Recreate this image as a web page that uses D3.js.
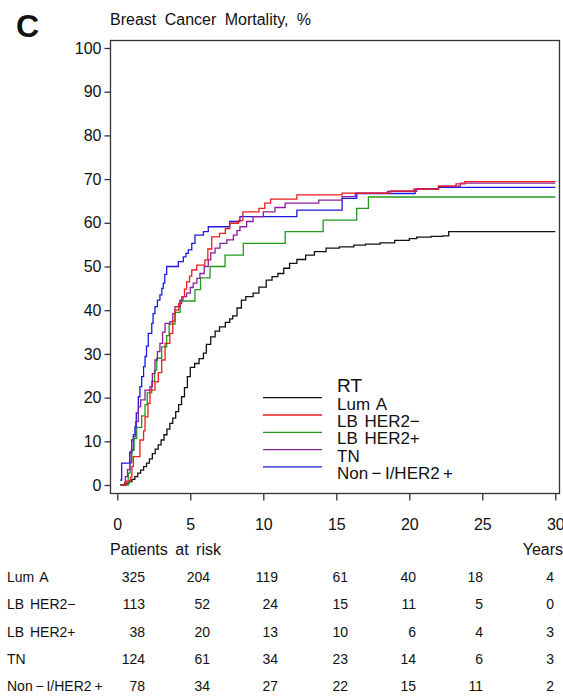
<!DOCTYPE html>
<html><head><meta charset="utf-8">
<script src="https://cdn.jsdelivr.net/npm/d3@7"></script>
<style>
body{margin:0;background:#fff;}
text{font-family:"Liberation Sans",Arial,Helvetica,sans-serif;fill:#111;}
</style>
</head><body>
<svg id="chart" width="563" height="700"></svg>
<script>
// ---------- data ----------
const seriesNames = ["Lum  A", "LB  HER2\u2212", "LB  HER2+", "TN", "Non\u2009\u2212\u2009I/HER2\u2009+"];
const seriesColors = ["#111111", "#ee1c1c", "#1f9a1f", "#8e1f9e", "#1a1ae0"];
const xTicks = [0, 5, 10, 15, 20, 25, 30];
const yTicks = [0, 10, 20, 30, 40, 50, 60, 70, 80, 90, 100];
const riskTimes = [0, 5, 10, 15, 20, 25, 30];

// step points [years, mortality %]
const lumA = [[0.2,0],[0.5,0.4],[0.8,0.8],[1.0,1.3],[1.2,1.9],[1.4,2.7],[1.6,3.4],[1.8,4.2],[2.0,5.0],[2.2,6.0],
  [2.4,7.2],[2.6,8.2],[2.8,9.2],[3.0,10.3],[3.2,11.5],[3.4,12.8],[3.6,14.1],[3.8,15.3],[4.0,16.8],[4.2,18.4],
  [4.4,20.2],[4.6,22.3],[4.8,24.8],[5.0,26.9],[5.3,27.8],[5.6,28.9],[5.9,30.2],[6.1,32.2],[6.4,33.9],[6.7,35.2],
  [7.0,36.2],[7.4,37.2],[7.7,38.0],[7.9,38.7],[8.2,40.5],[8.5,42.3],[8.8,43.1],[9.3,43.9],[9.7,45.3],[10.2,46.9],
  [10.6,47.7],[11.0,48.4],[11.4,49.6],[11.8,50.7],[12.3,51.6],[12.9,52.6],[13.5,53.4],[14.3,54.2],[15.2,54.5],[16.2,54.9],
  [17.0,55.1],[18.0,55.4],[19.0,56.0],[20.0,56.4],[20.5,56.7],[21.5,56.9],[22.3,57.0],[22.7,58.0],[30,58.0]];
const lbHer2Neg = [[0.3,0],[0.6,0.9],[0.9,1.8],[1.0,4.2],[1.1,6.5],[1.55,10.3],[1.8,12.4],[1.9,15.6],[2.1,18.7],[2.24,21.7],
  [2.58,23.6],[2.81,25.7],[3.04,28.6],[3.27,32.4],[3.6,34.7],[3.8,37.5],[3.95,40],[4.2,41.5],[4.41,43.1],[4.6,44.8],
  [4.75,46.5],[4.95,47.8],[5.1,49.2],[5.44,50.3],[6.0,51.5],[6.2,54.0],[6.47,56.8],[7.0,57.6],[7.4,58.7],[7.7,59.9],
  [8.3,60.5],[8.6,62.5],[9.7,63.3],[10.1,64.5],[10.5,65.4],[12.3,66.4],[15.4,66.8],[18.7,67.3],[20.3,67.7],[22.0,68.4],
  [23.2,68.9],[23.8,69.4],[30,69.4]];
const lbHer2Pos = [[0.53,0],[0.75,2.7],[0.87,5.3],[1.0,8.0],[1.15,10.6],[1.33,13.2],[1.67,15.8],[1.9,18.4],[2.05,21.1],[2.36,23.7],
  [2.55,26.3],[2.7,29.0],[3.04,31.6],[3.38,34.2],[3.55,36.8],[3.95,39.5],[4.3,42.1],[5.32,44.7],[5.7,47.4],[6.35,50.0],
  [7.38,52.6],[8.63,55.3],[11.5,58.0],[14.1,60.6],[16.4,63.3],[17.2,65.9],[30,65.9]];
const tn = [[0.4,0],[0.55,1.9],[0.7,3.5],[0.87,5],[0.95,8],[1.1,11],[1.25,14.5],[1.44,17.9],[1.6,19.5],[1.9,21.7],
  [2.24,22.5],[2.4,25.5],[2.58,28.6],[2.75,30.5],[2.92,32.4],[3.1,35],[3.27,37],[3.6,37.4],[3.8,39.2],[3.95,40.8],
  [4.3,42.3],[4.5,43.1],[4.75,43.9],[5.0,45.2],[5.2,46.2],[5.45,47.3],[5.66,48.4],[5.95,50],[6.23,51.5],[6.4,53.1],
  [6.7,54.2],[7.03,55.3],[7.5,56.1],[7.95,57.2],[8.2,58.2],[8.4,59.1],[8.86,60.3],[9.3,61.4],[10.0,62.5],[10.8,63.5],
  [11.5,64.5],[13.8,65.2],[15.4,66.0],[16.3,66.8],[18.5,67.2],[20.5,67.8],[22.0,68.4],[23.5,69.1],[30,69.1]];
const nonLumHer2 = [[0.18,1.1],[0.3,5],[0.85,7.5],[0.99,10.3],[1.1,11.5],[1.21,13.3],[1.3,16.5],[1.44,20.2],[1.55,22.5],[1.67,24.8],
  [1.8,27.1],[1.9,29.4],[2.0,31.8],[2.12,34.7],[2.36,37],[2.45,39.2],[2.58,40.8],[2.75,42.3],[2.92,43.5],[3.05,45],
  [3.15,46.2],[3.25,48.2],[3.38,50],[4.18,51.1],[4.52,52.2],[4.7,53],[4.86,53.8],[5.1,55.3],[5.32,57.2],[5.9,58],
  [6.23,59.1],[7.7,60.3],[8.4,61.4],[12.3,62.9],[15.4,65.6],[16.4,66.7],[20.4,67.7],[22.0,68.1],[30,68.1]];

const riskLumA = [325, 204, 119, 61, 40, 18, 4];
const riskLbHer2Neg = [113, 52, 24, 15, 11, 5, 0];
const riskLbHer2Pos = [38, 20, 13, 10, 6, 4, 3];
const riskTn = [124, 61, 34, 23, 14, 6, 3];
const riskNonLumHer2 = [78, 34, 27, 22, 15, 11, 2];

// ---------- layout ----------
const curves = [lumA, lbHer2Neg, lbHer2Pos, tn, nonLumHer2];
const risks = [riskLumA, riskLbHer2Neg, riskLbHer2Pos, riskTn, riskNonLumHer2];
const drawOrder = [0, 2, 4, 3, 1];

const svg = d3.select("#chart");
const x = d3.scaleLinear().domain([0, 30]).range([117.3, 555.3]);
const y = d3.scaleLinear().domain([0, 100]).range([485, 48]);
const frame = {l: 110.5, t: 40.5, r: 559.5, b: 493.5};

svg.append("text").attr("x", 16).attr("y", 37).style("font-size", "32px").style("font-weight", "bold").text("C");
svg.append("text").attr("x", 110).attr("y", 25).style("font-size", "16px").style("word-spacing", "4px")
  .text("Breast Cancer Mortality, %");

// frame
svg.append("rect").attr("x", frame.l).attr("y", frame.t)
  .attr("width", frame.r - frame.l).attr("height", frame.b - frame.t)
  .attr("fill", "none").attr("stroke", "#333").attr("stroke-width", 1.3);

// axes
const yAxis = svg.append("g").attr("transform", `translate(${frame.l},0)`)
  .call(d3.axisLeft(y).tickValues(yTicks).tickSize(6).tickPadding(3).tickFormat(d3.format("d")));
const xAxis = svg.append("g").attr("transform", `translate(0,${frame.b})`)
  .call(d3.axisBottom(x).tickValues(xTicks).tickSize(7).tickPadding(18).tickFormat(d3.format("d")));
[yAxis, xAxis].forEach(g => {
  g.select(".domain").remove();
  g.selectAll(".tick line").attr("stroke", "#333").attr("stroke-width", 1.3);
  g.selectAll(".tick text").style("font-size", "16px").attr("fill", "#111")
    .style("font-family", "'Liberation Sans',Arial,sans-serif");
});

// curves
const line = d3.line().x(d => x(d[0])).y(d => y(d[1])).curve(d3.curveStepAfter);
svg.append("g").selectAll("path").data(drawOrder).join("path")
  .attr("d", i => line(curves[i]))
  .attr("fill", "none").attr("stroke", i => seriesColors[i]).attr("stroke-width", 1.3);

// legend
const leg = svg.append("g");
leg.append("text").attr("x", 337).attr("y", 392).style("font-size", "19px").text("RT");
seriesNames.forEach((name, i) => {
  const ly = 397.7 + i * 17.3;
  leg.append("line").attr("x1", 263).attr("x2", 322).attr("y1", ly).attr("y2", ly)
    .attr("stroke", seriesColors[i]).attr("stroke-width", 1.3);
  leg.append("text").attr("x", 337).attr("y", ly + 12).style("font-size", "17px").style("word-spacing", "2px").text(name);
});

// risk table
svg.append("text").attr("x", 110).attr("y", 555).style("font-size", "16px").style("word-spacing", "3px").text("Patients at risk");
svg.append("text").attr("x", 563).attr("y", 555).attr("text-anchor", "end").style("font-size", "16px").text("Years");
const colRight = [145, 210, 278, 348, 416, 483, 554];
const rowBase = [582, 609, 637, 664, 691];
risks.forEach((row, i) => {
  svg.append("text").attr("x", 7).attr("y", rowBase[i]).style("font-size", "14px").style("word-spacing", "2px").text(seriesNames[i]);
  row.forEach((n, j) => {
    svg.append("text").attr("x", colRight[j]).attr("y", rowBase[i]).attr("text-anchor", "end")
      .style("font-size", "14px").text(n);
  });
});
</script>
</body></html>
